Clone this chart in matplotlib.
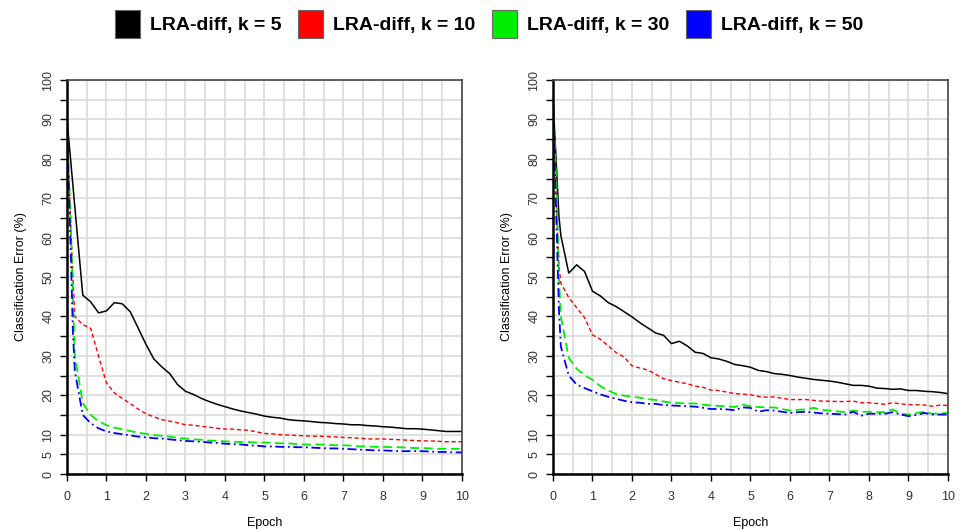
import matplotlib
matplotlib.use("Agg")
from matplotlib import pyplot as plt
from matplotlib.patches import Patch

# epochs at which the error was measured
epochs = [0, 0.1, 0.15] + [round(0.2 * i, 1) for i in range(1, 51)]

# left panel
left_k5 = [90, 78.9, 73.3,
           67.7, 45.4, 43.7, 40.9, 41.4, 43.5, 43.2, 41.2, 37.1, 32.9,
           29.2, 27.2, 25.5, 22.7, 21.0, 20.2, 19.2, 18.4, 17.7, 17.1,
           16.5, 16.0, 15.6, 15.2, 14.7, 14.4, 14.2, 13.8, 13.6, 13.5,
           13.3, 13.1, 13.0, 12.8, 12.7, 12.5, 12.5, 12.3, 12.2, 12.0,
           11.9, 11.7, 11.5, 11.5, 11.4, 11.2, 11.0, 10.8, 10.8, 10.8]
left_k10 = [88, 62, 50,
            40, 37.9, 37.0, 29.9, 23.1, 20.6, 19.2, 17.9, 16.5, 15.3,
            14.5, 13.8, 13.4, 13.0, 12.5, 12.4, 12.1, 11.9, 11.6, 11.4,
            11.4, 11.2, 11.1, 10.7, 10.3, 10.2, 10.0, 9.9, 9.8, 9.7,
            9.6, 9.6, 9.5, 9.4, 9.3, 9.2, 9.1, 8.9, 8.9, 8.9,
            8.8, 8.7, 8.6, 8.5, 8.4, 8.4, 8.3, 8.2, 8.2, 8.2]
left_k30 = [90, 62, 45,
            30, 18.0, 15.0, 13.4, 12.4, 11.8, 11.3, 10.9, 10.5, 10.2,
            9.9, 9.7, 9.5, 9.2, 9.0, 8.8, 8.7, 8.5, 8.4, 8.3,
            8.2, 8.1, 8.1, 8.0, 8.0, 7.9, 7.8, 7.8, 7.6, 7.5,
            7.5, 7.5, 7.4, 7.3, 7.3, 7.2, 7.0, 7.0, 6.9, 6.9,
            6.8, 6.8, 6.7, 6.6, 6.6, 6.5, 6.4, 6.4, 6.4, 6.4]
left_k50 = [88, 55, 36,
            26, 15.0, 12.9, 11.6, 10.8, 10.4, 10.1, 9.8, 9.5, 9.3,
            9.1, 9.0, 8.8, 8.6, 8.4, 8.3, 8.2, 8.0, 7.9, 7.7,
            7.6, 7.5, 7.3, 7.2, 7.0, 7.0, 6.9, 6.9, 6.8, 6.8,
            6.7, 6.6, 6.5, 6.5, 6.4, 6.3, 6.2, 6.1, 6.0, 6.0,
            5.9, 5.8, 5.8, 5.8, 5.8, 5.7, 5.6, 5.6, 5.5, 5.5]

# right panel
right_k5 = [95.5, 75.6, 65.5,
            60.5, 51.0, 53.1, 51.4, 46.4, 45.2, 43.5, 42.5, 41.2, 39.9,
            38.4, 37.1, 35.8, 35.2, 33.1, 33.7, 32.5, 30.9, 30.6, 29.5,
            29.2, 28.6, 27.8, 27.5, 27.1, 26.3, 26.0, 25.5, 25.3, 25.0,
            24.6, 24.3, 24.0, 23.8, 23.6, 23.3, 22.9, 22.5, 22.5, 22.3,
            21.8, 21.7, 21.5, 21.6, 21.2, 21.2, 21.0, 20.9, 20.7, 20.4]
right_k10 = [93, 65, 53,
             48.4, 44.8, 42.2, 39.7, 35.3, 34.2, 32.5, 30.8, 29.7, 27.5,
             26.9, 26.4, 25.3, 24.2, 23.7, 23.3, 22.9, 22.3, 22.0, 21.3,
             21.2, 20.8, 20.4, 20.3, 20.1, 19.7, 19.5, 19.6, 19.2, 18.9,
             18.9, 18.9, 18.7, 18.5, 18.5, 18.4, 18.4, 18.5, 18.1, 18.1,
             17.9, 17.7, 18.1, 17.8, 17.6, 17.6, 17.5, 17.2, 17.5, 17.4]
right_k30 = [95, 70, 50,
             40, 29.5, 26.7, 25.1, 23.9, 22.3, 21.2, 20.3, 19.9, 19.6,
             19.4, 19.0, 18.8, 18.4, 18.1, 18.0, 17.9, 17.9, 17.6, 17.4,
             17.3, 17.2, 17.0, 17.6, 17.2, 17.0, 16.9, 16.9, 16.5, 16.1,
             16.3, 16.4, 16.8, 16.3, 16.1, 15.9, 15.7, 16.1, 15.8, 15.8,
             15.7, 15.7, 16.4, 15.3, 15.1, 15.5, 15.8, 15.3, 15.4, 15.5]
right_k50 = [93, 60, 42,
             32.3, 25.0, 22.7, 21.8, 21.0, 20.2, 19.6, 19.1, 18.6, 18.2,
             18.1, 17.8, 17.8, 17.5, 17.4, 17.3, 17.2, 17.1, 16.8, 16.5,
             16.5, 16.4, 16.2, 16.9, 16.8, 15.8, 16.2, 16.1, 15.8, 15.5,
             15.7, 15.8, 15.6, 15.4, 15.3, 15.2, 15.1, 15.8, 14.8, 15.3,
             15.3, 15.3, 15.7, 15.1, 14.7, 15.0, 15.5, 15.1, 15.1, 15.1]

labels = ["LRA-diff, k = 5", "LRA-diff, k = 10", "LRA-diff, k = 30", "LRA-diff, k = 50"]
colors = ["#000000", "#ff0000", "#00ee00", "#0000ff"]
styles = [dict(ls="-", lw=1.1),
          dict(ls=(0, (3, 2)), lw=1.0),
          dict(ls=(0, (5, 2.5)), lw=1.3),
          dict(ls=(0, (5, 2, 1, 2)), lw=1.3)]

yticks = list(range(0, 101, 5))
ylabels = [str(v) if (v <= 10 or v % 10 == 0) else "" for v in yticks]

plt.rcParams["font.family"] = ["Liberation Sans", "DejaVu Sans"]

fig = plt.figure(figsize=(9.72, 5.31), dpi=100)
panels = [(0.0689, [left_k5, left_k10, left_k30, left_k50]),
          (0.5689, [right_k5, right_k10, right_k30, right_k50])]

for x0, series in panels:
    ax = fig.add_axes([x0, 0.1073, 0.4064, 0.742])
    for vals, c, st in zip(series, colors, styles):
        ax.plot(epochs, vals, color=c, **st)
    ax.set_xlim(0, 10)
    ax.set_ylim(0, 100)
    ax.set_xticks(range(0, 11))
    ax.set_xticks([i + 0.5 for i in range(10)], minor=True)
    ax.set_yticks(yticks)
    ax.set_yticklabels(ylabels, rotation=90, va="center")
    ax.grid(True, which="both", color="#dadada", lw=1.2)
    ax.set_axisbelow(True)
    ax.tick_params(axis="both", which="major", direction="out", length=5,
                   width=1, labelsize=9, labelcolor="#333333")
    ax.tick_params(axis="x", which="major", pad=7)
    ax.tick_params(axis="y", which="major", pad=4)
    ax.tick_params(axis="x", which="minor", length=0)
    for s in ["left", "bottom"]:
        ax.spines[s].set_linewidth(1.8)
        ax.spines[s].set_color("black")
    for s in ["top", "right"]:
        ax.spines[s].set_linewidth(1.2)
        ax.spines[s].set_color("#444444")
    ax.set_xlabel("Epoch", fontsize=9, labelpad=10)
    ax.set_ylabel("Classification Error (%)", fontsize=9, labelpad=11)

handles = [Patch(facecolor=c, edgecolor="#666666", lw=0.8) for c in colors]
fig.legend(handles, labels, loc="upper center", bbox_to_anchor=(0.503, 1.014),
           ncol=4, frameon=False, handlelength=1.3, handleheight=1.8,
           handletextpad=0.5, columnspacing=0.85,
           prop=dict(weight="bold", size=14))

fig.savefig("out.png", dpi=100)
